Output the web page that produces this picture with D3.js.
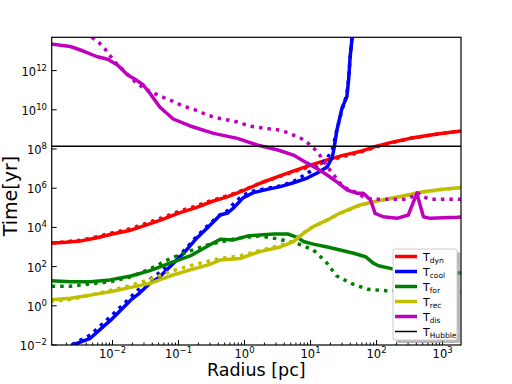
<!DOCTYPE html>
<html>
<head>
<meta charset="utf-8">
<script src="https://cdn.jsdelivr.net/npm/d3@7"></script>
<style>
  body { margin: 0; background: #fff; }
  svg { display: block; font-family: "DejaVu Sans", sans-serif; }
</style>
</head>
<body>
<div id="chart"></div>
<script>
const WIDTH = 512, HEIGHT = 384;
const X0 = 51.7, X1 = 461, Y0 = 37.3, Y1 = 345;

// dynamical time
const rDyn = [1.2e-3, 1.8e-3, 3.2e-3, 5.6e-3, 1e-2, 1.8e-2, 3.2e-2, 5.6e-2, 0.1, 0.18, 0.32, 0.56, 1, 1.8, 3.2, 5.6, 10, 18, 32, 56, 100, 180, 320, 560, 1000, 1900];
const tDyn = [1.6e3, 1.7e3, 2.0e3, 2.9e3, 4.6e3, 6.9e3, 1.3e4, 2.5e4, 5.4e4, 1.0e5, 2.1e5, 3.7e5, 8.1e5, 1.9e6, 3.9e6, 7.6e6, 1.5e7, 2.8e7, 4.9e7, 7.4e7, 1.4e8, 2.3e8, 3.5e8, 4.8e8, 6.3e8, 8.3e8];
const tDynDot = [1.6e3, 1.8e3, 2.2e3, 3.3e3, 5.3e3, 8.3e3, 1.6e4, 3.1e4, 6.5e4, 1.2e5, 2.4e5, 4.2e5, 8.5e5, 1.9e6, 3.7e6, 7.2e6, 1.3e7, 2.4e7, 4.2e7, 6.8e7, 1.3e8, 2.2e8, 3.4e8, 4.7e8, 6.2e8, 8.2e8];

// cooling time
const rCool = [2.0e-3, 2.5e-3, 4.6e-3, 9.3e-3, 1.9e-2, 2.6e-2, 3.7e-2, 5.2e-2, 7.4e-2, 0.12, 0.19, 0.30, 0.43, 0.55, 0.68, 0.95, 1.35, 2.2, 3.5, 5.5, 8.9, 12.6, 17.8, 21.4, 22.9, 25.1, 29.9, 35.5, 37.7, 39.8, 42.7, 45.7];
const tCool = [4.0e-3, 1e-2, 2.2e-2, 0.18, 2.0, 4.6, 14, 30, 98, 490, 2.9e3, 1.3e4, 4.3e4, 5.4e4, 9.8e4, 3.2e5, 5.9e5, 8.7e5, 1.2e6, 1.9e6, 3.3e6, 6.0e6, 1.2e7, 3.9e7, 1.3e8, 9.3e8, 1.2e10, 4.7e10, 3.3e11, 5.1e12, 5.0e13, 2.0e14];
const tCoolDot = [5.0e-3, 1.1e-2, 3.2e-2, 0.28, 2.8, 7.9, 22, 50, 130, 630, 3.5e3, 1.6e4, 4.5e4, 7.1e4, 1.6e5, 4.5e5, 7.1e5, 1.0e6, 1.3e6, 2.2e6, 5.6e6, 1.3e7, 3.2e7, 1.0e8, 2.5e8, 1.0e9, 1.0e10, 6.3e10, 4.0e11, 5.0e12, 6.3e13, 2.0e14];

// formation time
const rFor = [1.15e-3, 2.3e-3, 4.6e-3, 9.2e-3, 1.9e-2, 3.7e-2, 7.4e-2, 0.15, 0.30, 0.43, 0.68, 1.1, 1.7, 2.8, 4.5, 6.3, 7.8, 11, 18, 28, 45, 68, 89, 107, 162, 1900];
const tFor = [19, 17, 17, 21, 33, 62, 150, 350, 1.3e3, 2.5e3, 2.3e3, 3.6e3, 4.1e3, 4.6e3, 4.6e3, 3.1e3, 1.9e3, 1.4e3, 1.0e3, 710, 480, 320, 150, 110, 81, 47];
const rForDot = [1.2e-3, 2.3e-3, 4.6e-3, 9.2e-3, 1.9e-2, 3.7e-2, 7.4e-2, 0.15, 0.30, 0.60, 1.0, 1.7, 3.2, 6.3, 11, 17, 25, 43, 74, 145, 1900];
const tForDot = [10, 10, 13, 17, 30, 76, 250, 630, 1.4e3, 2.3e3, 3.2e3, 3.6e3, 2.6e3, 1.5e3, 710, 180, 33, 13, 6.9, 5.9, 5.6];

// recombination time
const rRec = [1.15e-3, 2.3e-3, 4.6e-3, 9.2e-3, 1.9e-2, 3.7e-2, 7.4e-2, 0.15, 0.30, 0.43, 0.85, 1.7, 3.5, 5.5, 7.8, 11, 18, 28, 56, 89, 162, 295, 513, 933, 1900];
const tRec = [2.0, 2.4, 3.5, 5.2, 8.7, 14, 33, 68, 130, 220, 260, 580, 1.0e3, 1.9e3, 5.0e3, 1.1e4, 2.4e4, 5.4e4, 1.4e5, 2.0e5, 3.0e5, 4.5e5, 6.6e5, 8.7e5, 1.1e6];
const tRecDot = [1.7, 2.1, 3.5, 6.0, 11, 22, 56, 110, 200, 260, 350, 660, 1.2e3, 2.0e3, 5.2e3, 1.1e4, 2.4e4, 5.2e4, 1.3e5, 2.0e5, 3.0e5, 4.4e5, 6.5e5, 8.5e5, 1.1e6];

// dissociation time
const rDis = [1.15e-3, 2.3e-3, 3.6e-3, 5.9e-3, 8.5e-3, 1.2e-2, 1.7e-2, 2.3e-2, 2.9e-2, 3.7e-2, 5.2e-2, 8.3e-2, 0.15, 0.34, 0.78, 1.55, 3.2, 5.5, 8.9, 12.6, 17.8, 25, 36, 51, 63, 81, 95, 126, 204, 302, 407, 513, 646, 1660, 1900];
const tDis = [2.3e13, 1.7e13, 1.0e13, 5.1e12, 3.8e12, 1.9e12, 6.0e11, 3.3e11, 1.9e11, 6.9e10, 1.4e10, 3.4e9, 1.5e9, 6.3e8, 3.5e8, 1.6e8, 8.9e7, 4.9e7, 1.9e7, 1.0e7, 4.7e6, 2.1e6, 8.1e5, 5.5e5, 5.5e5, 2.5e5, 5.2e4, 3.5e4, 2.9e4, 4.3e4, 5.5e5, 3.5e4, 2.9e4, 3.3e4, 3.4e4];
const rDisDot = [3.2e-3, 4.9e-3, 6.3e-3, 7.8e-3, 9.3e-3, 1.15e-2, 2.2e-2, 2.8e-2, 3.6e-2, 4.8e-2, 6.3e-2, 8.3e-2, 0.11, 0.15, 0.20, 0.27, 0.36, 0.48, 0.65, 0.85, 1.17, 1.55, 2.2, 3.0, 4.1, 5.5, 7.2, 9.3, 11.7, 14.1, 16.6, 20, 28, 37, 51, 63, 85, 115, 275, 363, 417, 479, 646, 1900];
const tDisDot = [2.1e14, 5.0e13, 2.6e13, 1.2e13, 5.5e12, 2.3e12, 2.7e11, 1.5e11, 9.1e10, 5.8e10, 3.9e10, 2.7e10, 1.7e10, 1.2e10, 8.7e9, 5.4e9, 4.1e9, 3.3e9, 2.8e9, 2.2e9, 1.5e9, 1.3e9, 1.1e9, 1.0e9, 7.6e8, 5.1e8, 3.5e8, 1.9e8, 9.5e7, 4.4e7, 1.9e7, 7.8e6, 1.8e6, 8.7e5, 5.9e5, 3.7e5, 2.7e5, 2.7e5, 2.7e5, 4.0e5, 5.9e5, 4.0e5, 2.7e5, 2.7e5];

const tHubble = 1.4e8;

const xTickExp = [-2, -1, 0, 1, 2, 3];
const yTickExp = [-2, 0, 2, 4, 6, 8, 10, 12];

const legendNames = ["dyn", "cool", "for", "rec", "dis", "Hubble"];
const COLORS = { dyn: "#ff0000", cool: "#0000ff", for: "#008000", rec: "#bfbf00", dis: "#bf00bf", Hubble: "#000000" };

const series = [
  { key: "dyn", r: rDyn, t: tDyn, dot: false },
  { key: "dyn", r: rDyn, t: tDynDot, dot: true },
  { key: "cool", r: rCool, t: tCool, dot: false },
  { key: "cool", r: rCool, t: tCoolDot, dot: true },
  { key: "for", r: rFor, t: tFor, dot: false },
  { key: "for", r: rForDot, t: tForDot, dot: true },
  { key: "rec", r: rRec, t: tRec, dot: false },
  { key: "rec", r: rRec, t: tRecDot, dot: true },
  { key: "dis", r: rDis, t: tDis, dot: false },
  { key: "dis", r: rDisDot, t: tDisDot, dot: true },
];

const x = d3.scaleLog().domain([1.2e-3, 1.9e3]).range([X0, X1]);
const y = d3.scaleLog().domain([1e-2, Math.pow(10, 13.7)]).range([Y1, Y0]);

const svg = d3.select("#chart").append("svg")
  .attr("width", WIDTH).attr("height", HEIGHT);

svg.append("clipPath").attr("id", "plot-clip")
  .append("rect").attr("x", X0).attr("y", Y0).attr("width", X1 - X0).attr("height", Y1 - Y0);

const plot = svg.append("g").attr("clip-path", "url(#plot-clip)");

const line = d3.line().x(d => x(d[0])).y(d => y(d[1]));

series.forEach(s => {
  plot.append("path")
    .datum(s.r.map((r, i) => [r, s.t[i]]))
    .attr("d", line)
    .attr("fill", "none")
    .attr("stroke", COLORS[s.key])
    .attr("stroke-width", 3.5)
    .attr("stroke-linejoin", "round")
    .attr("stroke-dasharray", s.dot ? "3.5,5" : null);
});

plot.append("line")
  .attr("x1", X0).attr("x2", X1)
  .attr("y1", y(tHubble)).attr("y2", y(tHubble))
  .attr("stroke", "#000").attr("stroke-width", 1.5);

// axes (inward ticks)
const xMinor = [];
for (let e = -3; e <= 3; e++) for (let k = 2; k <= 9; k++) {
  const v = k * Math.pow(10, e);
  if (v > 1.2e-3 && v < 1.9e3) xMinor.push(v);
}
const xMajor = xTickExp.map(e => Math.pow(10, e));
const yMajor = yTickExp.map(e => Math.pow(10, e));

const axG = svg.append("g").attr("stroke", "#000").attr("stroke-width", 1);
axG.selectAll(".xmin").data(xMinor).enter().append("line")
  .attr("x1", d => x(d)).attr("x2", d => x(d)).attr("y1", Y1).attr("y2", Y1 - 2.5);
axG.selectAll(".xmaj").data(xMajor).enter().append("line")
  .attr("x1", d => x(d)).attr("x2", d => x(d)).attr("y1", Y1).attr("y2", Y1 - 5);
axG.selectAll(".ymaj").data(yMajor).enter().append("line")
  .attr("y1", d => y(d)).attr("y2", d => y(d)).attr("x1", X0).attr("x2", X0 + 5);

svg.append("rect")
  .attr("x", X0).attr("y", Y0).attr("width", X1 - X0).attr("height", Y1 - Y0)
  .attr("fill", "none").attr("stroke", "#000").attr("stroke-width", 1.2);

function expLabel(sel, e) {
  sel.append("tspan").attr("font-size", 11.5).text("10");
  sel.append("tspan").attr("font-size", 8.5).attr("dy", -5).text(e < 0 ? "\u2212" + (-e) : e);
}

xTickExp.forEach(e => {
  const t = svg.append("text").attr("x", x(Math.pow(10, e))).attr("y", 358)
    .attr("text-anchor", "middle");
  expLabel(t, e);
});
yTickExp.forEach(e => {
  const t = svg.append("text").attr("x", 47).attr("y", y(Math.pow(10, e)) + 5)
    .attr("text-anchor", "end");
  expLabel(t, e);
});

svg.append("text").attr("x", (X0 + X1) / 2).attr("y", 376)
  .attr("text-anchor", "middle").attr("font-size", 17.5).text("Radius [pc]");
svg.append("text")
  .attr("transform", "translate(17,196) rotate(-90)")
  .attr("text-anchor", "middle").attr("font-size", 19).text("Time[yr]");

// legend
const LX = 393, LY = 249, LW = 64, LH = 91;
svg.append("rect").attr("x", LX + 3).attr("y", LY + 3).attr("width", LW).attr("height", LH)
  .attr("fill", "#888").attr("opacity", 0.6).attr("rx", 2);
svg.append("rect").attr("x", LX).attr("y", LY).attr("width", LW).attr("height", LH)
  .attr("fill", "#fff").attr("stroke", "#ccc").attr("stroke-width", 1).attr("rx", 2);

const entry = svg.selectAll(".leg").data(legendNames).enter().append("g")
  .attr("transform", (d, i) => `translate(${LX}, ${LY + 7.5 + i * 15})`);
entry.append("line").attr("x1", 2).attr("x2", 24)
  .attr("stroke", d => COLORS[d]).attr("stroke-width", d => d === "Hubble" ? 1.5 : 3.5);
const lt = entry.append("text").attr("x", 30).attr("y", 4);
lt.append("tspan").attr("font-size", 11).text("T");
lt.append("tspan").attr("font-size", 7.5).attr("dy", 2).text(d => d);
</script>
</body>
</html>
